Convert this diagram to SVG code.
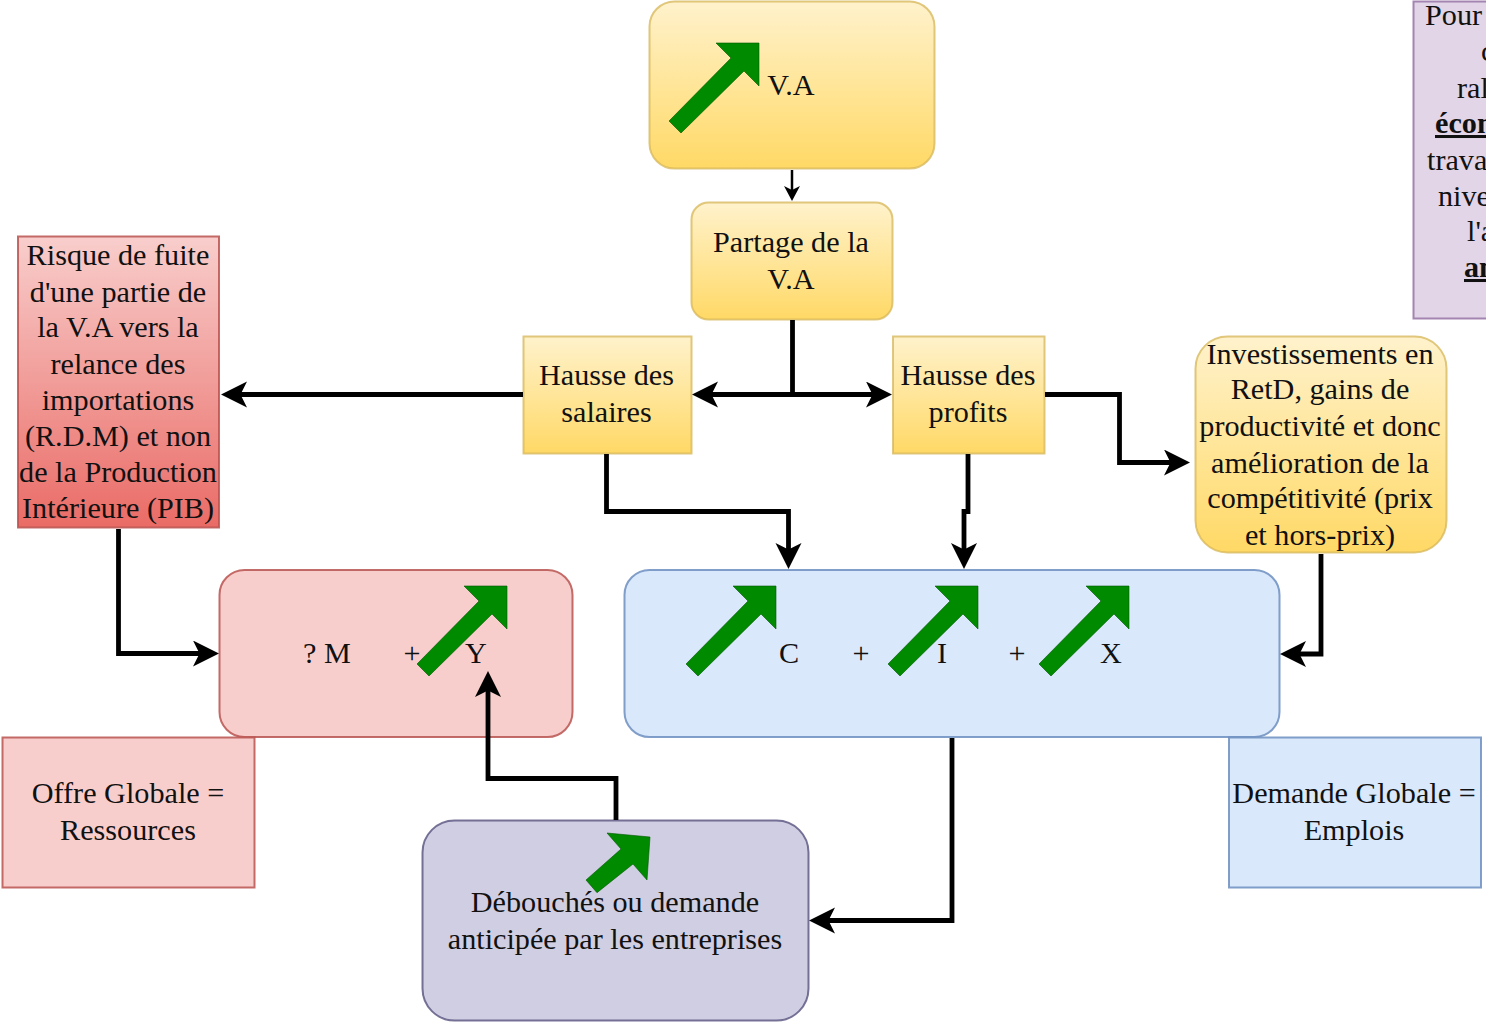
<svg xmlns="http://www.w3.org/2000/svg" width="1486" height="1024" viewBox="0 0 1486 1024">
<style>
text{font-family:"Liberation Serif","Times New Roman",serif;font-size:30.200px;fill:#111;text-anchor:middle}
.st{text-anchor:start}
.b{font-weight:bold;text-decoration:underline}
.y{fill:url(#gy);stroke:#d6b656;stroke-width:2;stroke-opacity:.75}
.r{fill:url(#gr);stroke:#b85450;stroke-width:2;stroke-opacity:.85}
.p{fill:#f8cecc;stroke:#b85450;stroke-width:2;stroke-opacity:.85}
.bl{fill:#dae8fc;stroke:#6c8ebf;stroke-width:2;stroke-opacity:.85}
.v{fill:#d0cee2;stroke:#56517e;stroke-width:2;stroke-opacity:.8}
.m{fill:#e1d5e7;stroke:#9673a6;stroke-width:2;stroke-opacity:.85}
.up{fill:#008a00;stroke:#005700;stroke-width:.6}
.c{fill:none;stroke:#000;stroke-width:4.800;marker-end:url(#ah)}
.t{fill:none;stroke:#000;stroke-width:2.500;marker-end:url(#as)}
</style>
<defs>
<linearGradient id="gy" x1="0" y1="0" x2="0" y2="1"><stop offset="0" stop-color="#fff2cc"/><stop offset="1" stop-color="#ffd966"/></linearGradient>
<linearGradient id="gr" x1="0" y1="0" x2="0" y2="1"><stop offset="0" stop-color="#f8cecc"/><stop offset="1" stop-color="#ea6b66"/></linearGradient>
<marker id="ah" markerUnits="userSpaceOnUse" markerWidth="30" markerHeight="30" refX="16" refY="13" orient="auto"><path d="M0 0L26 13L0 26L6.500 13Z" fill="#000"/></marker>
<marker id="as" markerUnits="userSpaceOnUse" markerWidth="20" markerHeight="20" refX="9" refY="8" orient="auto"><path d="M0 0L15 8L0 16L4 8Z" fill="#000"/></marker>
<polygon id="up" class="up" points="-90,78 -78,90 -15,28 0,43 0,0 -43,0 -28,15"/>
</defs>
<rect width="1486" height="1024" fill="#fff"/>
<g id="node-va"><rect class="y" x="649.500" y="1.500" width="285" height="167" rx="25"/><use href="#up" x="759" y="43"/><text x="791" y="94.500">V.A</text></g>
<g id="node-partage"><rect class="y" x="691.500" y="202.500" width="201" height="117" rx="17"/><text x="791" y="251.500">Partage de la</text><text x="791" y="288.500">V.A</text></g>
<g id="node-salaires"><rect class="y" x="523.500" y="336.500" width="168" height="117"/><text x="606.500" y="385">Hausse des</text><text x="606.500" y="422">salaires</text></g>
<g id="node-profits"><rect class="y" x="893" y="336.500" width="151.500" height="117"/><text x="968" y="385">Hausse des</text><text x="968" y="422">profits</text></g>
<g id="node-invest"><rect class="y" x="1195.500" y="336.500" width="251" height="216" rx="32"/>
<text x="1320" y="363.500">Investissements en</text><text x="1320" y="398.500">RetD, gains de</text><text x="1320" y="435.500">productivité et donc</text><text x="1320" y="472.500">amélioration de la</text><text x="1320" y="507.500">compétitivité (prix</text><text x="1320" y="544.500">et hors-prix)</text></g>
<g id="node-fuite"><rect class="r" x="18" y="236.500" width="201" height="291"/>
<text x="118" y="264.500">Risque de fuite</text><text x="118" y="301.500">d'une partie de</text><text x="118" y="336.500">la V.A vers la</text><text x="118" y="373.500">relance des</text><text x="118" y="410">importations</text><text x="118" y="445.500">(R.D.M) et non</text><text x="118" y="482">de la Production</text><text x="118" y="517.500">Intérieure (PIB)</text></g>
<g id="node-offre"><rect class="p" x="219.500" y="570" width="353" height="167" rx="25"/><text x="327" y="662.500">? M</text><text x="412" y="662.500">+</text><text x="476" y="662.500">Y</text><use href="#up" x="507" y="586"/></g>
<g id="node-demande"><rect class="bl" x="624.500" y="570" width="655" height="167" rx="25"/>
<use href="#up" x="776" y="586"/><use href="#up" x="978" y="586"/><use href="#up" x="1129" y="586"/>
<text x="789" y="662.500">C</text><text x="861" y="662.500">+</text><text x="942" y="662.500">I</text><text x="1017" y="662.500">+</text><text x="1111" y="662.500">X</text></g>
<g id="node-offre-label"><rect class="p" x="2.500" y="737.500" width="252" height="150"/><text x="128" y="802.500">Offre Globale =</text><text x="128" y="839.500">Ressources</text></g>
<g id="node-demande-label"><rect class="bl" x="1229" y="737.500" width="252" height="150"/><text x="1354" y="802.500">Demande Globale =</text><text x="1354" y="839.500">Emplois</text></g>
<g id="node-debouches"><rect class="v" x="422.500" y="820.500" width="386" height="200" rx="32"/>
<polygon class="up" points="586,880 597,892.700 633,864 647,880 650,837 607,833 621,849"/>
<text x="615" y="911.500">Débouchés ou demande</text><text x="615" y="948.500">anticipée par les entreprises</text></g>
<g id="node-note"><rect class="m" x="1413.500" y="1.500" width="90" height="317"/>
<text class="st" x="1425" y="24.500">Pour</text><text class="st" x="1481" y="61">c</text><text class="st" x="1457" y="97.500">ral</text><text class="st b" x="1435" y="133">écon</text><text class="st" x="1427" y="169.500">trava</text><text class="st" x="1438" y="205.500">nive</text><text class="st" x="1467" y="241">l'a</text><text class="st b" x="1464" y="277">an</text></g>
<g id="connectors">
<path class="t" d="M792 170V195"/>
<path class="c" d="M792.500 320V394.500H702"/>
<path class="c" d="M792.500 394.500H882"/>
<path class="c" d="M523 394.500H231"/>
<path class="c" d="M1045 394.500H1119.500V462.500H1180"/>
<path class="c" d="M606.500 454V511.500H788.500V559"/>
<path class="c" d="M968 454V511.500H964V559"/>
<path class="c" d="M1321 554V654H1290"/>
<path class="c" d="M118.500 529V653.500H209"/>
<path class="c" d="M616 820V778.500H488V681"/>
<path class="c" d="M952 738V920.500H819"/>
</g>
</svg>
